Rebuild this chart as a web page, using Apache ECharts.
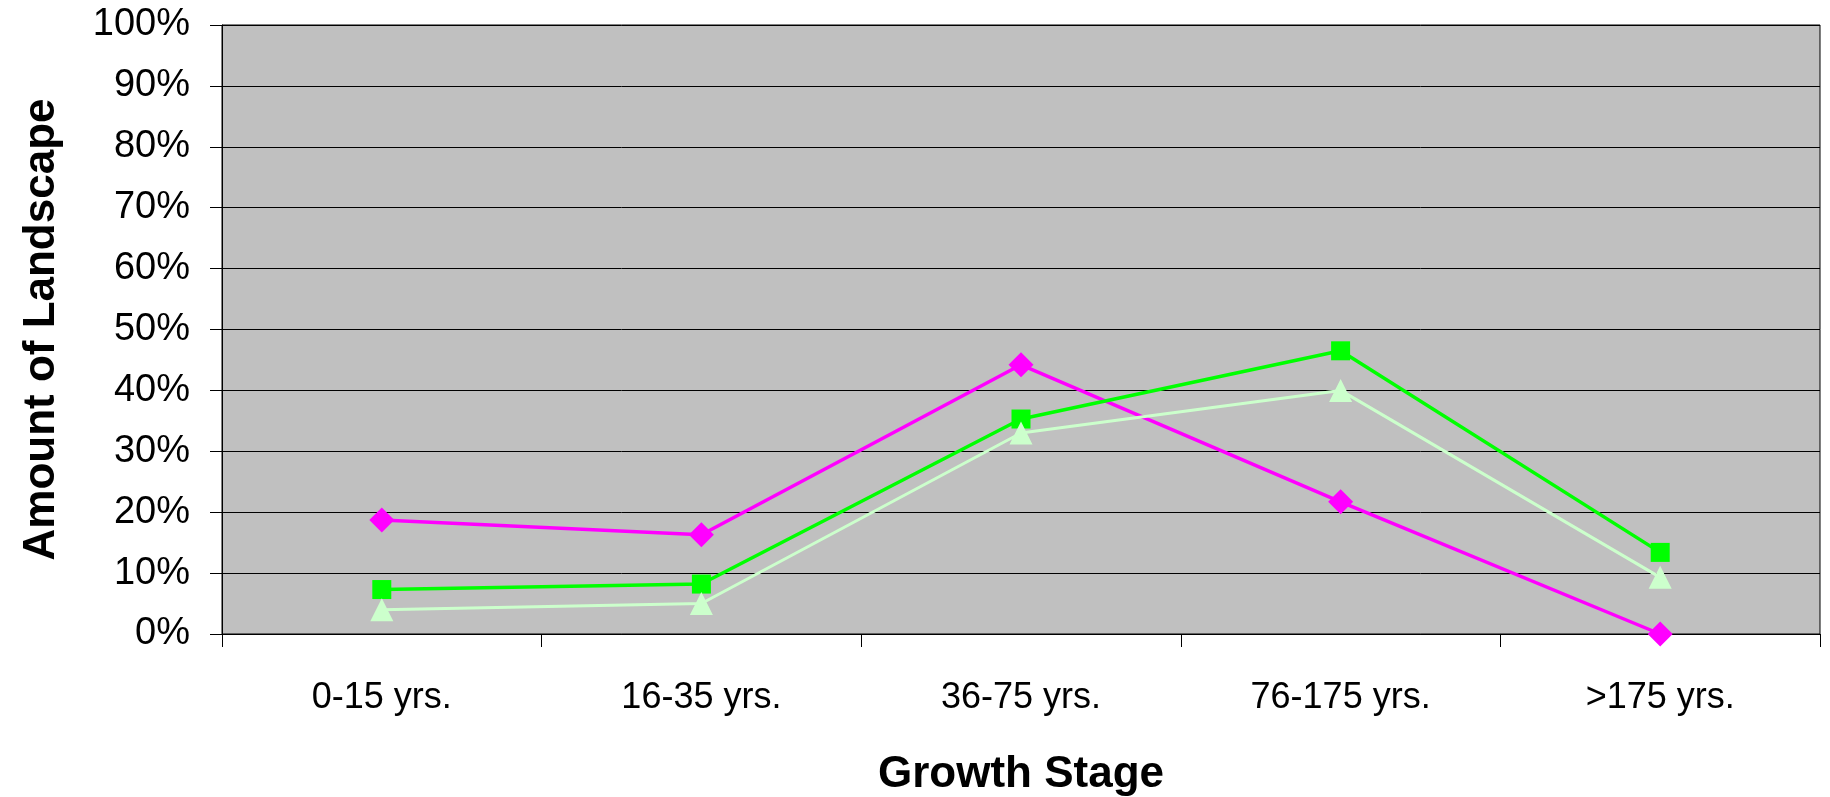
<!DOCTYPE html>
<html>
<head>
<meta charset="utf-8">
<script src="https://cdn.jsdelivr.net/npm/echarts@6/dist/echarts.min.js"></script>
<style>
html,body{margin:0;padding:0;background:#fff;}
#chart{width:1830px;height:797px;}
</style>
</head>
<body>
<div id="chart"></div>
<script>
const categories = ['0-15 yrs.', '16-35 yrs.', '36-75 yrs.', '76-175 yrs.', '>175 yrs.'];
const seriesMagenta = [18.7, 16.3, 44.2, 21.7, 0];
const seriesGreen = [7.3, 8.2, 35.3, 46.5, 13.4];
const seriesPaleGreen = [4.0, 5.0, 33.0, 40.0, 9.3];
const xTitle = 'Growth Stage';
const yTitle = 'Amount of Landscape';

const chart = echarts.init(document.getElementById('chart'), null, {renderer: 'canvas'});
const font = 'Liberation Sans, Arial, sans-serif';
chart.setOption({
  animation: false,
  backgroundColor: '#ffffff',
  grid: {
    left: 222, right: 10, top: 25, bottom: 163,
    containLabel: false,
    outerBoundsMode: 'none',
    show: true, backgroundColor: '#C0C0C0', borderColor: '#000', borderWidth: 1
  },
  xAxis: {
    type: 'category',
    data: categories,
    boundaryGap: true,
    name: xTitle,
    nameLocation: 'middle',
    nameGap: 119,
    nameTextStyle: {fontFamily: font, fontSize: 44, fontWeight: 'bold', color: '#000', verticalAlign: 'top'},
    axisLine: {lineStyle: {color: '#000', width: 1}},
    axisTick: {show: true, inside: false, length: 13, lineStyle: {color: '#000'}, alignWithLabel: false},
    axisLabel: {fontFamily: font, fontSize: 36, color: '#000', margin: 46, interval: 0},
    splitLine: {show: false}
  },
  yAxis: {
    type: 'value',
    min: 0, max: 100, interval: 10,
    name: yTitle,
    nameLocation: 'middle',
    nameGap: 158,
    nameRotate: 90,
    nameTextStyle: {fontFamily: font, fontSize: 44, fontWeight: 'bold', color: '#000'},
    axisLine: {show: true, lineStyle: {color: '#000', width: 1}},
    axisTick: {show: true, inside: false, length: 12, lineStyle: {color: '#000'}},
    axisLabel: {fontFamily: font, fontSize: 38, color: '#000', margin: 32, formatter: '{value}%'},
    splitLine: {show: true, lineStyle: {color: '#000', width: 1}}
  },
  series: [
    {
      type: 'line', data: seriesMagenta,
      symbol: 'diamond', symbolSize: 25, showAllSymbol: true,
      lineStyle: {color: '#FF00FF', width: 3.5},
      itemStyle: {color: '#FF00FF'}, z: 3
    },
    {
      type: 'line', data: seriesGreen,
      symbol: 'rect', symbolSize: 19, showAllSymbol: true,
      lineStyle: {color: '#00FF00', width: 3.5},
      itemStyle: {color: '#00FF00'}, z: 4
    },
    {
      type: 'line', data: seriesPaleGreen,
      symbol: 'triangle', symbolSize: 23, showAllSymbol: true,
      lineStyle: {color: '#CCFFCC', width: 3},
      itemStyle: {color: '#CCFFCC'}, z: 5
    }
  ]
});
</script>
</body>
</html>
